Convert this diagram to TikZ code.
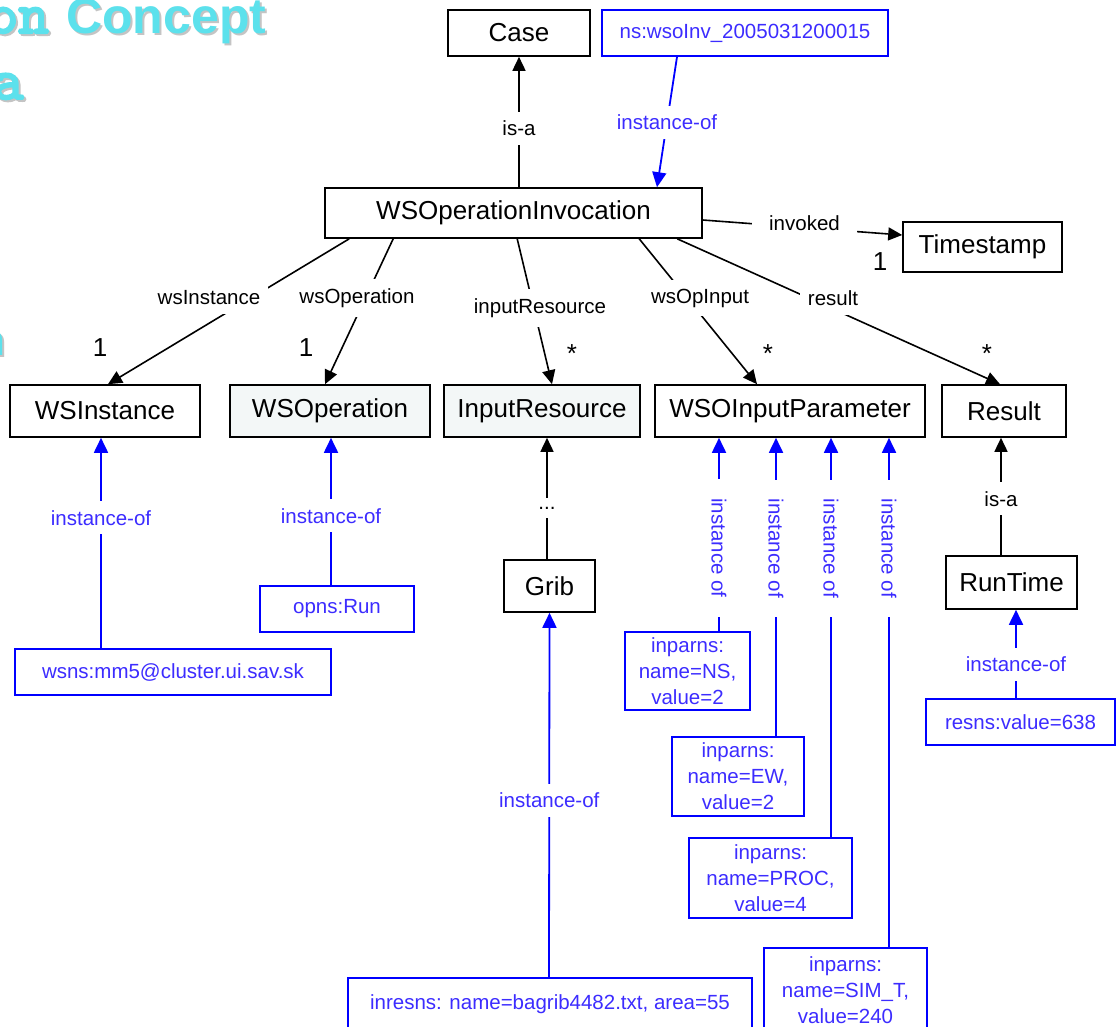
\documentclass[tikz,border=0pt]{standalone}
\usepackage{fontspec}
\setmainfont{Liberation Sans}
\newfontfamily\slabtitle{lmmono10-regular.otf}[FakeBold=3.5]
\usetikzlibrary{arrows.meta}

\definecolor{insblue}{RGB}{0,0,255}
\definecolor{instext}{RGB}{60,44,255}
\definecolor{titlecyan}{RGB}{92,225,236}
\definecolor{titleshade}{RGB}{196,196,196}
\definecolor{classtint}{RGB}{243,247,247}

\tikzset{
  cls/.style={draw=black, line width=1.6pt, fill=white, inner sep=0pt,
    font=\fontsize{26}{31}\selectfont},
  inst/.style={draw=insblue, line width=1.8pt, fill=white, text=instext,
    inner sep=0pt, align=center, font=\fontsize{20.5}{26}\selectfont},
  rel/.style={draw=black, line width=1.6pt, -{Triangle[length=14pt,width=13pt]}},
  instarr/.style={draw=insblue, line width=1.8pt, -{Triangle[length=15pt,width=14pt]}},
  lbl/.style={fill=white, inner xsep=8pt, inner ysep=9pt,
    font=\fontsize{20.5}{24}\selectfont},
  ilbl/.style={lbl, text=instext},
  vlbl/.style={ilbl, rotate=-90, inner xsep=19pt, inner ysep=3pt},
  mult/.style={inner sep=0pt, font=\fontsize{26}{30}\selectfont},
  ttl/.style={inner sep=0pt, text=titlecyan},
  ttlshadow/.style={inner sep=0pt, text=titleshade},
}

\begin{document}
\begin{tikzpicture}[x=1pt, y=-1pt]
  \clip (0,0) rectangle (1118,1026);
  \fill[white] (0,0) rectangle (1118,1026);

  % slide title, cut by the page edge
  \foreach \dx/\st in {2/ttlshadow, 0/ttl} {
    \node[\st, anchor=base east, font=\slabtitle\fontsize{58}{58}\selectfont]
      at (49+\dx,33+\dx) {on};
    \node[\st, anchor=base west, font=\bfseries\fontsize{50}{50}\selectfont]
      at (66+\dx,33+\dx) {Concept};
    \node[\st, anchor=base west, font=\slabtitle\fontsize{58}{58}\selectfont]
      at (-7+\dx,99+\dx) {a};
    \node[\st, anchor=base east, font=\bfseries\fontsize{44}{44}\selectfont]
      at (6+\dx,355+\dx) {n};
  }

  % classes
  \node[cls, minimum width=142pt, minimum height=46pt] (case) at (519,33) {Case};
  \node[cls, minimum width=377pt, minimum height=50pt] (inv) at (513.5,213) {WSOperationInvocation};
  \node[cls, minimum width=159pt, minimum height=50pt] (ts) at (982.5,247) {Timestamp};
  \node[cls, minimum width=190pt, minimum height=52pt] (wsi) at (105,411) {WSInstance};
  \node[cls, fill=classtint, minimum width=200pt, minimum height=52pt] (wso) at (330,411) {WSOperation};
  \node[cls, fill=classtint, minimum width=196pt, minimum height=52pt] (inres) at (542,411) {InputResource};
  \node[cls, minimum width=270pt, minimum height=52pt] (wsoin) at (790,411) {WSOInputParameter};
  \node[cls, minimum width=124pt, minimum height=52pt] (res) at (1004,411) {Result};
  \node[cls, minimum width=91pt, minimum height=52pt] (grib) at (549.5,586) {Grib};
  \node[cls, minimum width=131pt, minimum height=53pt] (runtime) at (1011.5,582.5) {RunTime};

  % instances
  \node[inst, minimum width=286pt, minimum height=46pt] (nsinv) at (745,33) {ns:wsoInv\_2005031200015};
  \node[inst, minimum width=316pt, minimum height=46pt] (wsns) at (173,672) {wsns:mm5@cluster.ui.sav.sk};
  \node[inst, minimum width=154pt, minimum height=46pt] (opns) at (337,609) {opns:Run};
  \node[inst, minimum width=125pt, minimum height=78pt] (nsbox) at (687.5,671) {inparns:\\name=NS,\\value=2};
  \node[inst, minimum width=132pt, minimum height=79pt] (ewbox) at (738,776.5) {inparns:\\name=EW,\\value=2};
  \node[inst, minimum width=163pt, minimum height=80pt] (procbox) at (770.5,878) {inparns:\\name=PROC,\\value=4};
  \node[inst, minimum width=163pt, minimum height=84pt] (simbox) at (845.5,990) {inparns:\\name=SIM\_T,\\value=240};
  \node[inst, minimum width=404pt, minimum height=52pt] (inresns) at (550,1004) {inresns: name=bagrib4482.txt, area=55};
  \node[inst, minimum width=189pt, minimum height=46pt] (resns) at (1020.5,722) {resns:value=638};

  % relations of WSOperationInvocation
  \draw[rel] ([xshift=5.5pt]inv.north) -- node[lbl, pos=0.45] (isa1) {is-a} (case.south);
  \draw[instarr] ([xshift=-68pt]nsinv.south) -- node[ilbl, pos=0.5] (iof0) {instance-of} ([xshift=143.5pt]inv.north);
  \draw[rel] ([yshift=-7pt]inv.east) -- node[lbl, pos=0.51, inner xsep=17pt, yshift=4pt] (invk) {invoked} ([yshift=12pt]ts.west);
  \node[mult] (m0) at (880,262) {1};

  \draw[rel] ([xshift=25pt]inv.south west) -- ([xshift=3pt]wsi.north);
  \draw[rel] ([xshift=69pt]inv.south west) -- ([xshift=-5pt]wso.north);
  \draw[rel] ([xshift=193pt]inv.south west) -- ([xshift=10pt]inres.north);
  \draw[rel] ([xshift=315pt]inv.south west) -- ([xshift=-33pt]wsoin.north);
  \draw[rel] ([xshift=353pt]inv.south west) -- ([xshift=-4pt]res.north);

  \node[lbl] (lwsi) at (209,298) {wsInstance};
  \node[lbl] (lwso) at (357,298) {wsOperation};
  \node[lbl] (linr) at (540,308) {inputResource};
  \node[lbl] (lwop) at (700,298) {wsOpInput};
  \node[lbl] (lres) at (833,298) {result};

  \node[mult] (m1) at (100,348) {1};
  \node[mult] (m2) at (306,348) {1};
  \node[mult] (m3) at (572,354) {*};
  \node[mult] (m4) at (768,354) {*};
  \node[mult] (m5) at (987,354) {*};

  % instance-of links
  \draw[instarr] ([xshift=-72pt]wsns.north) -- node[ilbl, pos=0.62] (iof1) {instance-of} ([xshift=-4pt]wsi.south);
  \draw[instarr] ([xshift=-6pt]opns.north) -- node[ilbl, pos=0.47] (iof2) {instance-of} ([xshift=1pt]wso.south);
  \draw[instarr] ([xshift=-1pt]inresns.north) -- node[ilbl, pos=0.486] (iof3) {instance-of} (grib.south);
  \draw[instarr] ([xshift=-4.5pt]resns.north) -- node[ilbl, pos=0.38] (iof4) {instance-of} ([xshift=4.5pt]runtime.south);

  % subclass links
  \draw[rel] ([xshift=-2.5pt]grib.north) -- node[lbl, pos=0.42, inner xsep=20pt] (dots) {...} ([xshift=5pt]inres.south);
  \draw[rel] ([xshift=-10.5pt]runtime.north) -- node[lbl, pos=0.48] (isa2) {is-a} ([xshift=-3pt]res.south);

  % input parameter instances
  \coordinate (q1) at ([xshift=31.5pt]nsbox.north);
  \coordinate (q2) at ([xshift=38pt]ewbox.north);
  \coordinate (q3) at ([xshift=60.5pt]procbox.north);
  \coordinate (q4) at ([xshift=43.5pt]simbox.north);
  \draw[instarr] (q1) -- node[vlbl, pos=0.43] (v1) {instance of} (q1 |- wsoin.south);
  \draw[instarr] (q2) -- node[vlbl, pos=0.63] (v2) {instance of} (q2 |- wsoin.south);
  \draw[instarr] (q3) -- node[vlbl, pos=0.723] (v3) {instance of} (q3 |- wsoin.south);
  \draw[instarr] (q4) -- node[vlbl, pos=0.783] (v4) {instance of} (q4 |- wsoin.south);
\end{tikzpicture}
\end{document}
